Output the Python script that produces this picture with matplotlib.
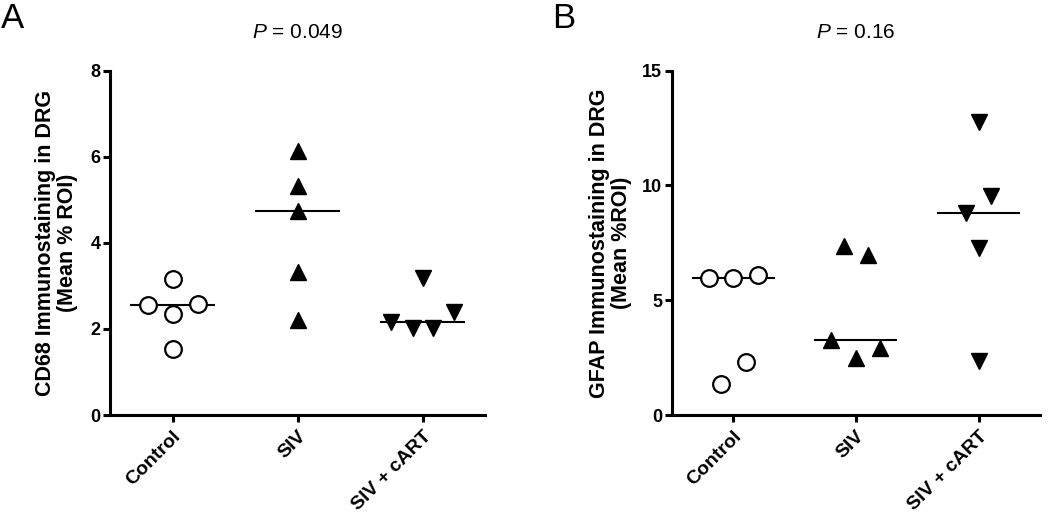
import matplotlib
matplotlib.use("Agg")
import matplotlib.pyplot as plt
import numpy as np

categories = ["Control", "SIV", "SIV + cART"]

# Panel A: CD68
a_control = [2.56, 3.15, 2.34, 2.58, 1.53]
a_control_off = [-0.2, 0.0, 0.0, 0.2, 0.0]
a_siv = [6.14, 5.32, 4.73, 3.33, 2.21]
a_siv_off = [0.0, 0.0, 0.0, 0.0, 0.0]
a_cart = [3.19, 2.15, 2.01, 2.03, 2.39]
a_cart_off = [0.0, -0.25, -0.08, 0.086, 0.25]

# Panel B: GFAP
b_control = [5.95, 5.95, 6.10, 1.35, 2.32]
b_control_off = [-0.195, 0.0, 0.205, -0.095, 0.108]
b_siv = [7.36, 6.97, 3.28, 2.47, 2.90]
b_siv_off = [-0.1, 0.1, -0.2, 0.0, 0.2]
b_cart = [12.75, 9.54, 8.82, 7.26, 2.35]
b_cart_off = [0.0, 0.1, -0.1, 0.0, 0.0]

a_yticks = [0, 2, 4, 6, 8]
b_yticks = [0, 5, 10, 15]

a_ylabel = "CD68 Immunostaining in DRG\n(Mean % ROI)"
b_ylabel = "GFAP Immunostaining in DRG\n(Mean %ROI)"
a_p = "0.049"
b_p = "0.16"

FONT = "Liberation Sans"
plt.rcParams["mathtext.fontset"] = "custom"
plt.rcParams["mathtext.it"] = "Liberation Sans:italic"
plt.rcParams["mathtext.rm"] = "Liberation Sans"

fig = plt.figure(figsize=(10.5, 5.14), dpi=100)
W, H = 1050, 514

def make_axes(x0, x1, y0, y1):
    return fig.add_axes([x0 / W, 1 - y0 / H, (x1 - x0) / W, (y0 - y1) / H])

axA = make_axes(110, 485, 415, 70.7)
axB = make_axes(671.7, 1040, 415, 70.7)

def draw(ax, groups, yticks, ylabel, pval, label_x):
    markers = ["o", "^", "v"]
    for i, (vals, offs) in enumerate(groups):
        xs = np.array(offs) + i
        m = markers[i]
        if m == "o":
            ax.plot(xs, vals, linestyle="none", marker="o", markersize=12,
                    markerfacecolor="white", markeredgecolor="black",
                    markeredgewidth=1.6, zorder=3, clip_on=False)
        else:
            ax.plot(xs, vals, linestyle="none", marker=m, markersize=11,
                    markerfacecolor="black", markeredgecolor="black",
                    zorder=3, clip_on=False)
        med = np.median(vals)
        ax.plot([i - 0.33, i + 0.33], [med, med], color="black", lw=1.5, zorder=2)
    ax.set_xlim(-0.5, 2.5)
    ax.set_ylim(yticks[0], yticks[-1])
    ax.set_yticks(yticks)
    ax.set_xticks(range(len(categories)))
    ax.set_xticklabels(categories, rotation=45, ha="right", rotation_mode="anchor",
                       fontsize=14, fontweight="bold", family=FONT)
    for lbl in ax.get_yticklabels():
        lbl.set_fontsize(13)
        lbl.set_fontweight("bold")
        lbl.set_family(FONT)
    for s in ["top", "right"]:
        ax.spines[s].set_visible(False)
    for s in ["left", "bottom"]:
        ax.spines[s].set_linewidth(2.2)
    ax.tick_params(axis="both", width=2.2, length=5, direction="out", pad=2)
    ax.tick_params(axis="x", pad=4)
    ax.set_ylabel(ylabel, fontsize=15.5, fontweight="bold", family=FONT,
                  linespacing=1.05)
    ax.yaxis.set_label_coords(label_x, 0.5)
    ax.set_title(r"$\mathit{P}$" + " = " + pval, fontsize=15, family=FONT, pad=23.5)

draw(axA, [(a_control, a_control_off), (a_siv, a_siv_off), (a_cart, a_cart_off)],
     a_yticks, a_ylabel, a_p, -0.085)
draw(axB, [(b_control, b_control_off), (b_siv, b_siv_off), (b_cart, b_cart_off)],
     b_yticks, b_ylabel, b_p, -0.108)

fig.text(1 / W, 1 - 27.7 / H, "A", fontsize=25, family=FONT, va="baseline", ha="left")
fig.text(552 / W, 1 - 27.7 / H, "B", fontsize=25, family=FONT, va="baseline", ha="left")

fig.savefig("out.png", dpi=100)
